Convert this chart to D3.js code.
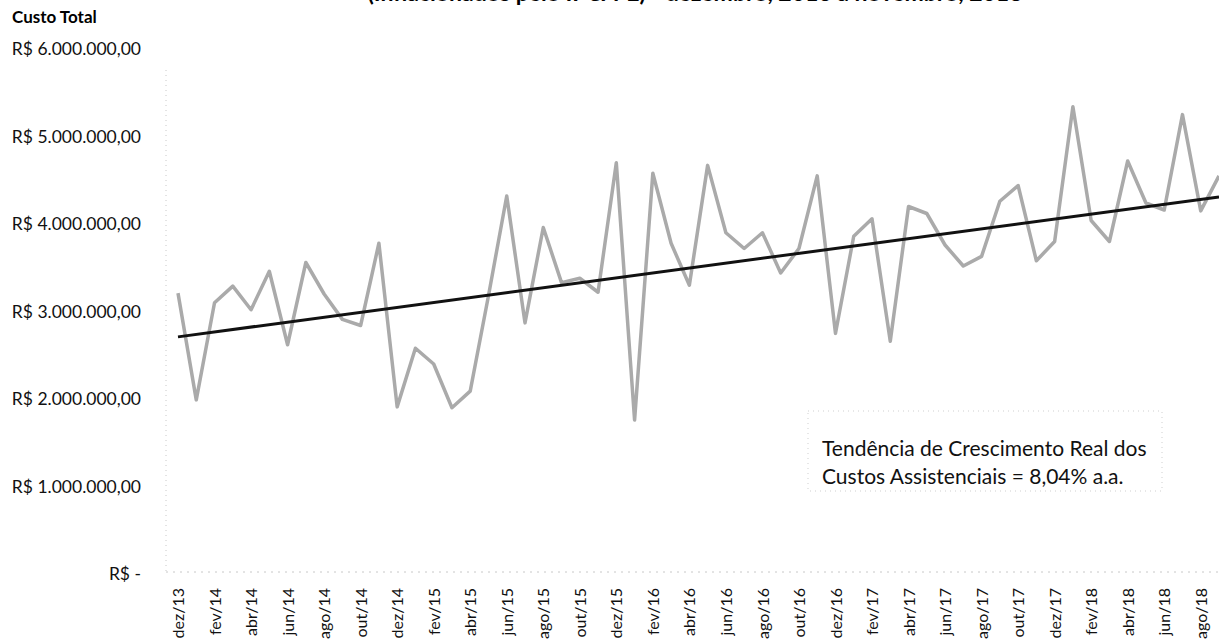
<!DOCTYPE html>
<html>
<head>
<meta charset="utf-8">
<script src="https://cdn.jsdelivr.net/npm/d3@7"></script>
<style>
  body { margin: 0; background: #fff; overflow: hidden; }
  svg { display: block; font-family: Lato, "Open Sans", sans-serif; }
</style>
</head>
<body>
<svg id="chart"></svg>
<script>
const months = [
    "dez/13",
    "jan/14", "fev/14", "mar/14", "abr/14", "mai/14", "jun/14", "jul/14", "ago/14", "set/14", "out/14", "nov/14", "dez/14",
    "jan/15", "fev/15", "mar/15", "abr/15", "mai/15", "jun/15", "jul/15", "ago/15", "set/15", "out/15", "nov/15", "dez/15",
    "jan/16", "fev/16", "mar/16", "abr/16", "mai/16", "jun/16", "jul/16", "ago/16", "set/16", "out/16", "nov/16", "dez/16",
    "jan/17", "fev/17", "mar/17", "abr/17", "mai/17", "jun/17", "jul/17", "ago/17", "set/17", "out/17", "nov/17", "dez/17",
    "jan/18", "fev/18", "mar/18", "abr/18", "mai/18", "jun/18", "jul/18", "ago/18", "set/18"
];

// custo total mensal (R$)
const custoTotal = [
    3210000,
    1990000, 3100000, 3290000, 3020000, 3460000, 2620000, 3560000, 3200000, 2910000, 2840000, 3780000, 1910000,
    2580000, 2400000, 1900000, 2090000, 3180000, 4320000, 2870000, 3960000, 3330000, 3380000, 3220000, 4700000,
    1760000, 4580000, 3780000, 3300000, 4670000, 3900000, 3720000, 3900000, 3440000, 3720000, 4550000, 2750000,
    3860000, 4060000, 2660000, 4200000, 4120000, 3760000, 3520000, 3630000, 4260000, 4440000, 3580000, 3800000,
    5340000, 4040000, 3800000, 4720000, 4240000, 4160000, 5250000, 4150000, 4550000
];

// linha de tendência (início e fim)
const trendIndex = [0, 57];
const trendValues = [2710000, 4310000];

const yTicks = [0, 1000000, 2000000, 3000000, 4000000, 5000000, 6000000];

const width = 1219;
const height = 644;

const svg = d3.select("#chart")
    .attr("width", width)
    .attr("height", height);

const x = d3.scaleLinear()
    .domain([0, months.length - 1])
    .range([178, 1219]);

const y = d3.scaleLinear()
    .domain([0, 6000000])
    .range([574, 49]);

const brl = d3.formatLocale({
    decimal: ",",
    thousands: ".",
    grouping: [3],
    currency: ["R$ ", ""]
});
const fmt = brl.format("$,.2f");

// title (cut off at the top of the picture)
svg.append("text")
    .attr("x", 695)
    .attr("y", 1)
    .attr("text-anchor", "middle")
    .attr("font-weight", "bold")
    .attr("font-size", "23px")
    .text("(Inflacionados pelo IPCA-E) - dezembro, 2013 a novembro, 2018");

svg.append("text")
    .attr("x", 12)
    .attr("y", 23)
    .attr("font-weight", "bold")
    .attr("font-size", "17px")
    .text("Custo Total");

// faint axis lines
svg.append("line")
    .attr("x1", 166).attr("x2", 166)
    .attr("y1", 70).attr("y2", 574)
    .attr("stroke", "#c8c8c8")
    .attr("stroke-dasharray", "1,4");

svg.append("line")
    .attr("x1", 166).attr("x2", width)
    .attr("y1", 572).attr("y2", 572)
    .attr("stroke", "#c8c8c8")
    .attr("stroke-dasharray", "2,5");

// y axis
const yAxis = svg.append("g")
    .attr("transform", "translate(166,0)")
    .call(d3.axisLeft(y)
        .tickValues(yTicks)
        .tickSize(0)
        .tickPadding(25)
        .tickFormat(d => d === 0 ? "R$ -" : fmt(d)));
yAxis.select(".domain").remove();
yAxis.selectAll("text")
    .attr("font-family", "Lato, 'Open Sans', sans-serif")
    .attr("font-size", "17.5px")
    .attr("fill", "#111");

// x axis
const xAxis = svg.append("g")
    .attr("transform", "translate(0,584)")
    .call(d3.axisBottom(x)
        .tickValues(d3.range(0, months.length, 2))
        .tickSize(0)
        .tickFormat(i => months[i]));
xAxis.select(".domain").remove();
xAxis.selectAll("text")
    .attr("font-family", "Lato, 'Open Sans', sans-serif")
    .attr("font-size", "16px")
    .attr("fill", "#111")
    .attr("text-anchor", "end")
    .attr("dy", "0.35em")
    .attr("transform", "rotate(-90)")
    .attr("x", -4)
    .attr("y", 0);

// data line
const line = d3.line()
    .x((d, i) => x(i))
    .y(d => y(d));

svg.append("path")
    .datum(custoTotal)
    .attr("fill", "none")
    .attr("stroke", "#aaaaaa")
    .attr("stroke-width", 3.5)
    .attr("stroke-linejoin", "round")
    .attr("d", line);

// trend line
svg.append("path")
    .datum(trendValues)
    .attr("fill", "none")
    .attr("stroke", "#111")
    .attr("stroke-width", 3)
    .attr("d", d3.line().x((d, i) => x(trendIndex[i])).y(d => y(d)));

// annotation box
svg.append("rect")
    .attr("x", 808)
    .attr("y", 411)
    .attr("width", 354)
    .attr("height", 80)
    .attr("fill", "none")
    .attr("stroke", "#cfcfcf")
    .attr("stroke-dasharray", "1,4");

const note = svg.append("text")
    .attr("font-size", "21px")
    .attr("fill", "#111");
note.append("tspan").attr("x", 822).attr("y", 456).text("Tendência de Crescimento Real dos");
note.append("tspan").attr("x", 822).attr("y", 484).text("Custos Assistenciais = 8,04% a.a.");
</script>
</body>
</html>
